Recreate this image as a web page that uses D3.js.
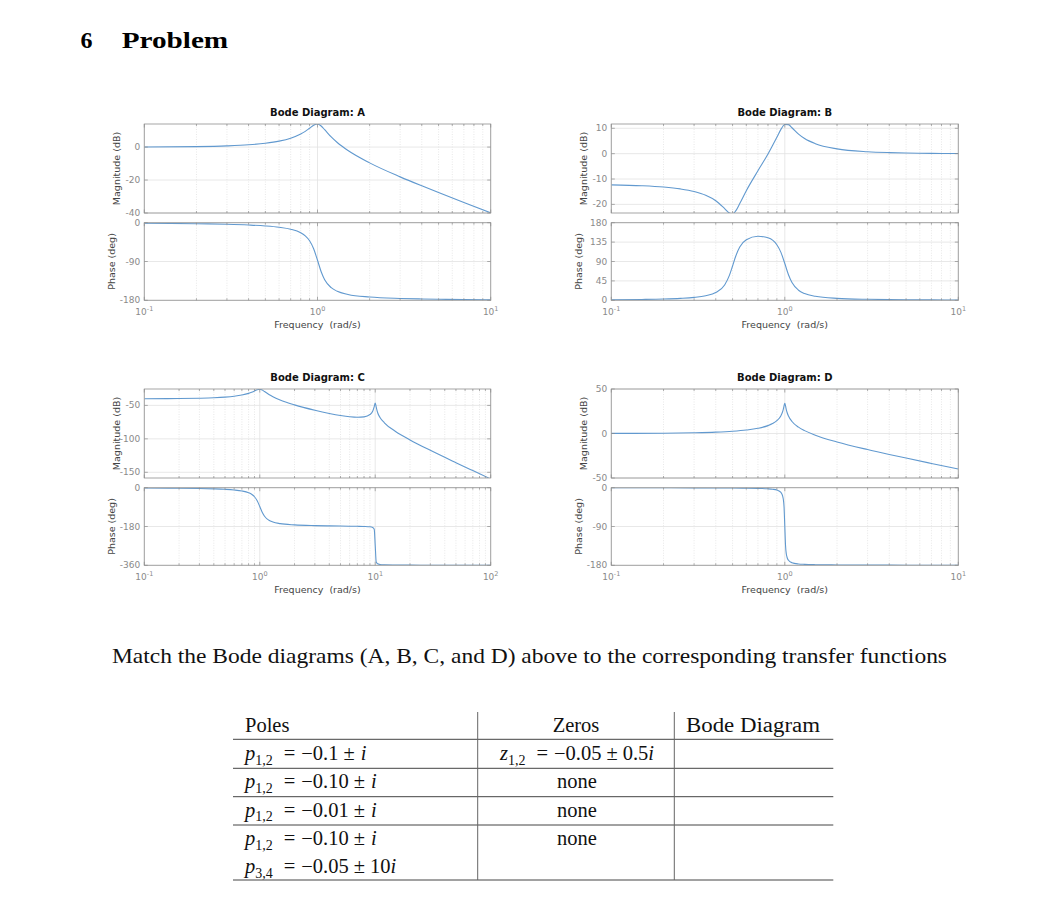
<!DOCTYPE html>
<html>
<head>
<meta charset="utf-8">
<script src="https://cdn.jsdelivr.net/npm/d3@7/dist/d3.min.js"></script>
<style>
  body { margin: 0; background: #fff; }
  svg { display: block; }
</style>
</head>
<body>
<script>
// values (frequency in rad/s, magnitude in dB, phase in deg)
const wA = [0.1, 0.2, 0.3, 0.4, 0.5, 0.6, 0.7, 0.8, 0.85, 0.9, 0.95, 1, 1.05, 1.1, 1.2, 1.3, 1.5, 2, 3, 4, 5, 7, 10];
const magA = [0.0, 0.26, 0.71, 1.37, 2.31, 3.60, 5.38, 7.89, 9.52, 11.40, 13.22, 13.97, 12.78, 10.54, 6.15, 2.76, -2.12, -9.59, -18.08, -23.53, -27.61, -33.63, -39.91];
const phaseA = [-1.1, -2.4, -3.7, -5.4, -7.5, -10.5, -15.1, -23.4, -30.6, -42.0, -60.5, -87.1, -113.8, -132.3, -150.8, -159.1, -166.4, -172.4, -175.7, -176.9, -177.6, -178.3, -178.8];

const wB = [0.1, 0.15, 0.2, 0.25, 0.3, 0.35, 0.4, 0.45, 0.48, 0.5, 0.52, 0.55, 0.6, 0.7, 0.8, 0.9, 0.95, 1, 1.05, 1.1, 1.2, 1.3, 1.5, 2, 3, 4, 5, 7, 10];
const magB = [-12.30, -12.64, -13.16, -13.90, -14.93, -16.41, -18.56, -21.64, -23.44, -23.70, -22.66, -19.68, -14.60, -6.75, -0.16, 6.44, 9.57, 11.52, 11.44, 10.22, 7.69, 5.95, 3.93, 1.90, 0.77, 0.42, 0.26, 0.13, 0.06];
const phaseB = [1.2, 2.0, 3.0, 4.5, 6.7, 10.6, 18.0, 35.6, 58.3, 79.6, 101.0, 123.5, 140.3, 148.5, 144.9, 128.8, 111.2, 85.3, 59.2, 41.1, 23.4, 15.7, 9.3, 4.5, 2.3, 1.6, 1.2, 0.9, 0.6];

const wC = [0.1, 0.2, 0.3, 0.4, 0.5, 0.6, 0.7, 0.8, 0.85, 0.9, 0.95, 1, 1.05, 1.1, 1.2, 1.3, 1.5, 2, 3, 4, 5, 6, 7, 8, 9, 9.5, 9.8, 10, 10.2, 10.5, 11, 12, 15, 20, 30, 50, 70, 100];
const magC = [-40.0, -39.74, -39.28, -38.62, -37.67, -36.37, -34.58, -32.05, -30.42, -28.53, -26.70, -25.94, -27.12, -29.35, -33.72, -37.09, -41.92, -49.24, -57.26, -62.02, -65.11, -67.0, -67.78, -67.12, -63.65, -58.83, -51.78, -46.5, -52.65, -61.03, -68.04, -75.98, -88.94, -101.56, -117.13, -135.56, -147.42, -159.91];
const phaseC = [-1.2, -2.4, -3.7, -5.4, -7.5, -10.5, -15.1, -23.4, -30.6, -42.0, -60.6, -87.2, -113.9, -132.4, -150.9, -159.2, -166.5, -172.5, -175.9, -177.2, -178.0, -178.6, -179.1, -179.8, -181.4, -184.3, -192.7, -268.7, -344.7, -353.1, -356.0, -357.4, -358.5, -359.2, -359.6, -359.8, -359.8, -359.9];

const wD = [0.1, 0.2, 0.3, 0.4, 0.5, 0.6, 0.7, 0.8, 0.85, 0.9, 0.95, 0.97, 0.98, 0.99, 1, 1.01, 1.02, 1.03, 1.05, 1.1, 1.2, 1.3, 1.5, 2, 3, 4, 5, 7, 10];
const magD = [0.09, 0.35, 0.82, 1.51, 2.50, 3.88, 5.84, 8.86, 11.12, 14.38, 20.05, 24.11, 27.08, 31.01, 33.98, 30.92, 26.90, 23.85, 19.62, 13.51, 7.12, 3.22, -1.94, -9.54, -18.06, -23.52, -27.60, -33.62, -39.91];
const phaseD = [-0.1, -0.2, -0.4, -0.6, -0.8, -1.1, -1.6, -2.5, -3.5, -5.4, -11.0, -18.1, -26.3, -44.7, -89.7, -134.7, -153.2, -161.3, -168.4, -174.0, -176.9, -177.8, -178.6, -179.2, -179.6, -179.7, -179.8, -179.9, -179.9];

// axis tick values
const magTicksA = [-40, -20, 0], phaseTicksA = [-180, -90, 0];
const magTicksB = [-20, -10, 0, 10], phaseTicksB = [0, 45, 90, 135, 180];
const magTicksC = [-150, -100, -50], phaseTicksC = [-360, -180, 0];
const magTicksD = [-50, 0, 50], phaseTicksD = [-180, -90, 0];

// table contents
const tableHeader = ['Poles', 'Zeros', 'Bode Diagram'];
const poleRows = [
  [{ sym: 'p', sub: '1,2', re: '−0.1', im: '' }],
  [{ sym: 'p', sub: '1,2', re: '−0.10', im: '' }],
  [{ sym: 'p', sub: '1,2', re: '−0.01', im: '' }],
  [{ sym: 'p', sub: '1,2', re: '−0.10', im: '' }, { sym: 'p', sub: '3,4', re: '−0.05', im: '10' }]
];
const zeroRows = [{ sym: 'z', sub: '1,2', re: '−0.05', im: '0.5' }, 'none', 'none', 'none'];

const SANS = '"DejaVu Sans", sans-serif';
const SERIF = '"Liberation Serif", "Times New Roman", serif';
const LINE = '#6199cf';

const svg = d3.select('body').append('svg')
  .attr('width', 1064)
  .attr('height', 910);

// ---- heading and question ----
svg.append('text')
  .attr('x', 80.5).attr('y', 47.5)
  .style('font', `bold 24px ${SERIF}`)
  .text('6');
svg.append('text')
  .attr('x', 121.7).attr('y', 47.5)
  .attr('textLength', 106.5).attr('lengthAdjust', 'spacingAndGlyphs')
  .style('font', `bold 24px ${SERIF}`)
  .text('Problem');

svg.append('text')
  .attr('x', 112).attr('y', 662.5)
  .attr('textLength', 835).attr('lengthAdjust', 'spacingAndGlyphs')
  .style('font', `21px ${SERIF}`)
  .attr('fill', '#111')
  .text('Match the Bode diagrams (A, B, C, and D) above to the corresponding transfer functions');

// ---- bode panels ----
const cols = [{ left: 144.3, right: 490.7 }, { left: 611.3, right: 958.3 }];
const rows = [124, 389];
const magH = 89, phOff = 98.7, phH = 77.6;

const panels = [
  { title: 'Bode Diagram: A', col: 0, row: 0, w: wA, mag: magA, phase: phaseA, xDom: [0.1, 10],
    magDom: [-40, 14], magTicks: magTicksA, phDom: [-180, 0], phTicks: phaseTicksA },
  { title: 'Bode Diagram: B', col: 1, row: 0, w: wB, mag: magB, phase: phaseB, xDom: [0.1, 10],
    magDom: [-23.4, 11.7], magTicks: magTicksB, phDom: [0, 180], phTicks: phaseTicksB },
  { title: 'Bode Diagram: C', col: 0, row: 1, w: wC, mag: magC, phase: phaseC, xDom: [0.1, 100],
    magDom: [-158.5, -25.5], magTicks: magTicksC, phDom: [-360, 0], phTicks: phaseTicksC },
  { title: 'Bode Diagram: D', col: 1, row: 1, w: wD, mag: magD, phase: phaseD, xDom: [0.1, 10],
    magDom: [-50, 50], magTicks: magTicksD, phDom: [-180, 0], phTicks: phaseTicksD }
];

let clipId = 0;

function drawAxes(g, x, y, ticks, w, vals, showX) {
  const [l, r] = x.range();
  const [b, t] = y.range();
  const [d0, d1] = x.domain().map(v => Math.round(Math.log10(v)));
  const major = d3.range(d0, d1 + 1).map(d => Math.pow(10, d));
  const minor = [];
  for (let d = d0; d < d1; d++) for (let k = 2; k <= 9; k++) minor.push(k * Math.pow(10, d));

  g.append('rect').attr('x', l).attr('y', t).attr('width', r - l).attr('height', b - t).attr('fill', '#fff');

  // grid
  g.selectAll(null).data(minor).join('line')
    .attr('x1', d => x(d)).attr('x2', d => x(d)).attr('y1', t).attr('y2', b)
    .attr('stroke', '#d6d6d6').attr('stroke-width', 0.6).attr('stroke-dasharray', '1,1.5');
  g.selectAll(null).data(major).join('line')
    .attr('x1', d => x(d)).attr('x2', d => x(d)).attr('y1', t).attr('y2', b)
    .attr('stroke', '#e2e2e2').attr('stroke-width', 0.8);
  g.selectAll(null).data(ticks).join('line')
    .attr('x1', l).attr('x2', r).attr('y1', d => y(d)).attr('y2', d => y(d))
    .attr('stroke', '#e2e2e2').attr('stroke-width', 0.8);

  // curve
  const id = 'clip' + (clipId++);
  g.append('clipPath').attr('id', id)
    .append('rect').attr('x', l).attr('y', t).attr('width', r - l).attr('height', b - t);
  const line = d3.line()
    .x(d => x(d[0]))
    .y(d => y(d[1]))
    .curve(d3.curveMonotoneX);
  g.append('path')
    .datum(d3.zip(w, vals))
    .attr('clip-path', `url(#${id})`)
    .attr('d', line)
    .attr('fill', 'none')
    .attr('stroke', LINE)
    .attr('stroke-width', 1.1);

  // box and inward ticks
  g.append('rect').attr('x', l).attr('y', t).attr('width', r - l).attr('height', b - t)
    .attr('fill', 'none').attr('stroke', '#9c9c9c').attr('stroke-width', 0.9);
  const tk = g.append('g').attr('stroke', '#8c8c8c').attr('stroke-width', 0.7);
  major.concat(minor).forEach(v => {
    const len = major.includes(v) ? 3.5 : 2;
    tk.append('line').attr('x1', x(v)).attr('x2', x(v)).attr('y1', b).attr('y2', b - len);
    tk.append('line').attr('x1', x(v)).attr('x2', x(v)).attr('y1', t).attr('y2', t + len);
  });
  ticks.forEach(v => {
    tk.append('line').attr('x1', l).attr('x2', l + 3.5).attr('y1', y(v)).attr('y2', y(v));
    tk.append('line').attr('x1', r).attr('x2', r - 3.5).attr('y1', y(v)).attr('y2', y(v));
  });

  g.selectAll(null).data(ticks).join('text')
    .attr('x', l - 4).attr('y', d => y(d)).attr('dy', '0.34em')
    .attr('text-anchor', 'end')
    .attr('fill', '#8a8a8a')
    .style('font', `9px ${SANS}`)
    .text(d => d);

  if (showX) {
    const lab = g.selectAll(null).data(major).join('text')
      .attr('x', d => x(d)).attr('y', b + 14.5)
      .attr('text-anchor', 'middle')
      .attr('fill', '#8a8a8a')
      .style('font', `9px ${SANS}`);
    lab.append('tspan').text('10');
    lab.append('tspan').attr('dy', -4).style('font-size', '6.5px')
      .text(d => String(Math.round(Math.log10(d))));
  }
}

panels.forEach(p => {
  const { left, right } = cols[p.col];
  const top = rows[p.row];
  const g = svg.append('g');
  const x = d3.scaleLog().domain(p.xDom).range([left, right]);
  const yM = d3.scaleLinear().domain(p.magDom).range([top + magH, top]);
  const yP = d3.scaleLinear().domain(p.phDom).range([top + phOff + phH, top + phOff]);

  drawAxes(g, x, yM, p.magTicks, p.w, p.mag, false);
  drawAxes(g, x, yP, p.phTicks, p.w, p.phase, true);

  const cx = (left + right) / 2;
  g.append('text')
    .attr('x', cx).attr('y', top - 8)
    .attr('text-anchor', 'middle')
    .style('font', `bold 10px ${SANS}`)
    .attr('fill', '#111')
    .text(p.title);
  g.append('text')
    .attr('x', cx).attr('y', top + phOff + phH + 28)
    .attr('text-anchor', 'middle')
    .style('font', `9.5px ${SANS}`)
    .attr('fill', '#444')
    .attr('xml:space', 'preserve')
    .text('Frequency  (rad/s)');

  const ylab = (txt, yc, dx) => g.append('text')
    .attr('transform', `translate(${left + dx},${yc}) rotate(-90)`)
    .attr('text-anchor', 'middle')
    .style('font', `9.5px ${SANS}`)
    .attr('fill', '#444')
    .attr('xml:space', 'preserve')
    .text(txt);
  ylab('Magnitude (dB)', top + magH / 2, -24.5);
  ylab('Phase (deg)', top + phOff + phH / 2, -29.5);
});

// ---- table ----
const tbl = svg.append('g').style('font', `20.5px ${SERIF}`).attr('fill', '#111');
const hLines = [739.3, 768.3, 796.7, 825, 880];
const vLines = [477.7, 674.3];
tbl.selectAll(null).data(hLines).join('line')
  .attr('x1', 233).attr('x2', 833.3).attr('y1', d => d).attr('y2', d => d)
  .attr('stroke', '#444').attr('stroke-width', 1);
tbl.selectAll(null).data(vLines).join('line')
  .attr('x1', d => d).attr('x2', d => d).attr('y1', 712).attr('y2', 880)
  .attr('stroke', '#666').attr('stroke-width', 1);

tbl.append('text').attr('x', 245).attr('y', 732).text(tableHeader[0]);
tbl.append('text').attr('x', 576).attr('y', 732).attr('text-anchor', 'middle').text(tableHeader[1]);
tbl.append('text').attr('x', 686).attr('y', 732).attr('textLength', 134).attr('lengthAdjust', 'spacingAndGlyphs').text(tableHeader[2]);

function mathText(t, m) {
  t.append('tspan').style('font-style', 'italic').text(m.sym);
  t.append('tspan').attr('dy', 4.5).style('font-size', '14px').text(m.sub);
  t.append('tspan').attr('dy', -4.5).attr('dx', 11).text('=');
  t.append('tspan').attr('dx', 6).text(m.re);
  t.append('tspan').attr('dx', 5).text('±');
  if (m.im) {
    t.append('tspan').attr('dx', 5).text(m.im);
    t.append('tspan').style('font-style', 'italic').text('i');
  } else {
    t.append('tspan').attr('dx', 6).style('font-style', 'italic').text('i');
  }
}

const rowBase = [760, 788.3, 816.7, 845];
poleRows.forEach((ps, i) => {
  ps.forEach((m, j) => {
    const t = tbl.append('text').attr('x', 245).attr('y', rowBase[i] + j * 28.3);
    mathText(t, m);
  });
  const z = zeroRows[i];
  const t = tbl.append('text').attr('x', 577).attr('y', rowBase[i]).attr('text-anchor', 'middle');
  if (typeof z === 'string') t.text(z);
  else mathText(t, z);
});
</script>
</body>
</html>
